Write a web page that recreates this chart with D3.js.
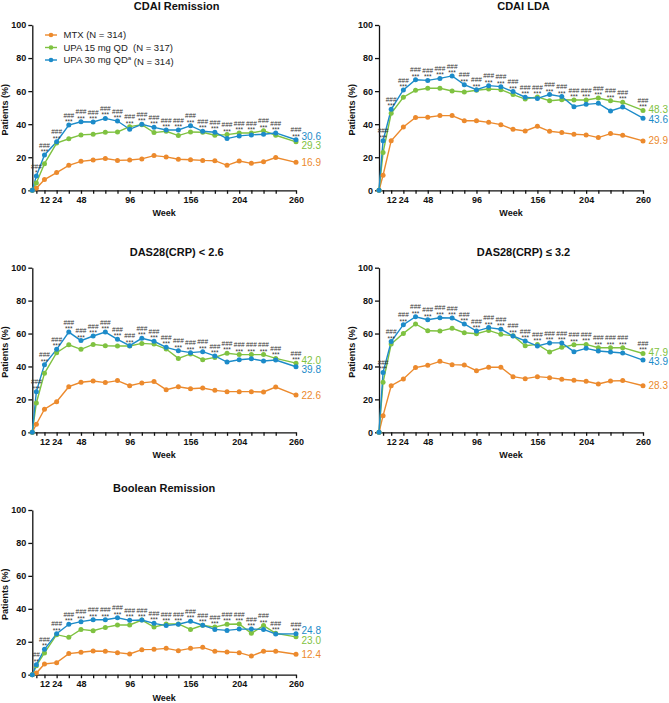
<!DOCTYPE html>
<html><head><meta charset="utf-8">
<script src="https://cdn.jsdelivr.net/npm/d3@7"></script>
<style>
body{margin:0;background:#fff;}
svg{font-family:Arial,"Liberation Sans",sans-serif;}
</style></head>
<body><svg id="c" width="669" height="703"></svg>
<script>
const weeks = [0,4,12,24,36,48,60,72,84,96,108,120,132,144,156,168,180,192,204,216,228,240,260];
const weekLabels = [12,24,48,96,156,204,260];
const yTicks = [0,20,40,60,80,100];
const seriesNames = ["MTX (N = 314)", "UPA 15 mg QD  (N = 317)", "UPA 30 mg QD"];
const colors = ["#EC8A2D", "#7FC241", "#1C8BC9"];

// CDAI Remission
const cdaiRemMTX = [0,1.2,6.5,10.7,15.1,17.5,18.3,19.2,18.1,18.3,19.0,21.0,20.2,18.8,18.5,18.1,17.9,15.1,17.7,16.3,17.3,19.8,16.9];
const cdaiRemU15 = [0,4.4,16.1,28.6,31.2,33.5,33.9,35.1,35.3,38.5,39.7,34.9,35.7,33.1,35.3,35.1,33.3,33.7,34.7,34.7,36.1,33.3,29.3];
const cdaiRemU30 = [0,8.7,21.4,29.4,39.5,41.5,41.3,43.5,41.9,36.9,39.9,38.1,36.5,36.5,39.1,35.7,35.1,31.3,32.9,33.5,33.9,34.7,30.6];
const cdaiRemHash = ["","###","###","###","###","###","###","###","###","###","###","###","###","###","###","###","###","###","###","###","###","###","###"];
const cdaiRemStar = ["","*","***","***","***","***","***","***","***","***","***","***","***","***","***","***","***","***","***","***","***","***","***"];

// CDAI LDA
const cdaiLdaMTX = [0,9.1,30.0,38.3,44.0,44.2,45.2,45.2,42.1,42.1,41.1,39.7,36.9,35.9,38.7,35.7,34.9,33.9,33.5,31.9,34.3,33.3,29.9];
const cdaiLdaU15 = [0,22.8,46.6,56.3,60.5,61.7,61.7,60.1,59.5,60.5,61.3,60.9,57.9,55.2,56.5,54.2,54.8,54.6,54.6,55.8,54.2,53.2,48.3];
const cdaiLdaU30 = [0,30.0,49.0,60.7,66.9,66.5,67.7,69.2,63.9,60.9,63.3,62.7,59.7,56.3,55.6,57.9,56.7,50.6,52.0,52.6,48.0,50.4,43.6];
const cdaiLdaHash = ["","###","###","###","###","###","###","###","###","###","###","###","###","###","###","###","###","###","###","###","###","###","###"];
const cdaiLdaStar = ["","***","***","***","***","***","***","***","***","***","***","***","***","***","***","***","***","***","***","***","***","***","***"];

// DAS28(CRP) < 2.6
const das26MTX = [0,4.9,14.0,18.6,27.7,30.4,31.2,30.2,31.4,28.3,30.0,30.8,25.9,27.7,26.5,26.9,25.5,24.7,24.7,24.7,24.5,27.5,22.6];
const das26U15 = [0,17.8,35.8,48.4,53.2,50.4,53.4,52.6,52.4,52.4,54.0,53.6,50.6,44.9,47.6,44.1,45.5,48.0,47.2,47.2,47.2,44.9,42.0];
const das26U30 = [0,24.7,41.1,50.4,60.9,55.7,58.5,60.9,56.5,52.6,57.1,55.3,51.6,49.6,48.4,49.0,46.4,42.7,44.1,44.7,43.3,43.9,39.8];
const das26Hash = ["","###","###","###","###","###","###","###","###","###","###","###","###","###","###","###","###","###","###","###","###","###","###"];
const das26Star = ["","***","***","***","***","***","***","***","***","***","***","***","***","***","***","***","***","***","***","***","***","***","***"];

// DAS28(CRP) <= 3.2
const das32MTX = [0,10.1,28.3,32.4,39.3,40.7,43.1,41.1,40.9,37.4,39.5,39.5,33.8,32.6,33.8,33.2,32.2,31.6,31.0,29.4,31.2,31.4,28.3];
const das32U15 = [0,30.4,53.6,60.1,65.8,61.7,61.5,63.2,60.5,59.9,61.9,59.5,58.7,52.6,53.4,48.8,51.6,53.2,53.4,51.4,51.4,51.4,47.9];
const das32U30 = [0,36.4,55.1,65.4,70.2,68.4,69.6,69.4,65.8,61.5,63.6,62.6,58.5,55.5,52.4,54.3,54.3,49.0,51.0,49.4,48.8,48.2,43.9];
const das32Hash = ["","###","###","###","###","###","###","###","###","###","###","###","###","###","###","###","###","###","###","###","###","###","###"];
const das32Star = ["","***","***","***","***","***","***","***","***","***","***","***","***","***","***","***","***","***","***","***","***","***","***"];

// Boolean Remission
const boolMTX = [0,1.0,6.5,7.3,12.8,13.6,14.4,14.2,13.4,12.6,15.2,15.4,16.0,14.6,16.0,16.6,14.2,13.8,13.4,11.3,14.2,14.2,12.4];
const boolU15 = [0,5.5,13.2,24.3,22.7,27.5,26.7,28.7,30.2,30.2,33.2,28.9,30.8,30.8,27.5,30.0,28.9,30.6,30.8,25.1,29.8,25.1,23.0];
const boolU30 = [0,6.1,15.4,24.9,30.6,32.2,33.4,33.4,34.6,33.0,33.2,31.2,29.8,30.6,32.4,30.0,27.5,26.9,27.7,27.7,27.5,24.7,24.8];
const boolHash = ["","##","###","###","###","###","###","###","###","###","###","###","###","###","###","###","###","###","###","###","###","###","###"];
const boolStar = ["","**","**","***","***","***","***","***","***","***","***","***","***","***","***","***","***","***","***","***","***","***","***"];

const panels = [
  {title:"CDAI Remission", s:[cdaiRemMTX,cdaiRemU15,cdaiRemU30], hash:cdaiRemHash, star:cdaiRemStar, x0:32.3, x1:296, yb:190.3, yt:25, ty:10, tdx:12.5, legend:true},
  {title:"CDAI LDA", s:[cdaiLdaMTX,cdaiLdaU15,cdaiLdaU30], hash:cdaiLdaHash, star:cdaiLdaStar, x0:379, x1:643, yb:190.3, yt:25, ty:10, tdx:12.5},
  {title:"DAS28(CRP) < 2.6", s:[das26MTX,das26U15,das26U30], hash:das26Hash, star:das26Star, x0:32.3, x1:296, yb:432.3, yt:267.7, ty:255.5, tdx:12.5},
  {title:"DAS28(CRP) \u2264 3.2", s:[das32MTX,das32U15,das32U30], hash:das32Hash, star:das32Star, x0:379, x1:643, yb:432.3, yt:267.7, ty:255.5, tdx:12.5},
  {title:"Boolean Remission", s:[boolMTX,boolU15,boolU30], hash:boolHash, star:boolStar, x0:32.3, x1:296, yb:674.7, yt:510, ty:491.5, tdx:0}
];

const svg = d3.select("#c");
const bold = "bold";

panels.forEach(p => {
  const x = d3.scaleLinear().domain([0,260]).range([p.x0,p.x1]);
  const y = d3.scaleLinear().domain([0,100]).range([p.yb,p.yt]);
  const g = svg.append("g");

  // title
  g.append("text").attr("x",(p.x0+p.x1)/2 + p.tdx).attr("y",p.ty)
    .attr("text-anchor","middle").attr("font-size",11).attr("font-weight",bold).attr("fill","#111")
    .text(p.title);

  // y axis
  const ya = g.append("g").attr("transform",`translate(${p.x0},0)`)
    .call(d3.axisLeft(y).tickValues(yTicks).tickSize(4).tickSizeOuter(0).tickPadding(2));
  ya.selectAll("text").attr("font-size",9).attr("font-weight",bold).attr("fill","#111").attr("font-family","Arial,'Liberation Sans',sans-serif");
  ya.selectAll("path,line").attr("stroke","#111").attr("stroke-width",1.3);

  // x axis
  const xa = g.append("g").attr("transform",`translate(0,${p.yb})`)
    .call(d3.axisBottom(x).tickValues(weeks.slice(1)).tickSize(3.5).tickSizeOuter(0).tickPadding(2.5)
      .tickFormat(d => weekLabels.includes(d) ? d : ""));
  xa.selectAll("text").attr("font-size",9).attr("font-weight",bold).attr("fill","#111").attr("font-family","Arial,'Liberation Sans',sans-serif");
  xa.selectAll("path,line").attr("stroke","#111").attr("stroke-width",1.3);

  // axis titles
  g.append("text").attr("x",(p.x0+p.x1)/2).attr("y",p.yb+26)
    .attr("text-anchor","middle").attr("font-size",9).attr("font-weight",bold).attr("fill","#111").text("Week");
  g.append("text").attr("transform",`translate(${p.x0-24},${(p.yb+p.yt)/2+2}) rotate(-90)`)
    .attr("text-anchor","middle").attr("font-size",9).attr("font-weight",bold).attr("fill","#111").text("Patients (%)");

  // lines + markers
  const line = d3.line().x((d,i)=>x(weeks[i])).y(d=>y(d));
  p.s.forEach((vals,k) => {
    g.append("path").attr("d",line(vals)).attr("fill","none").attr("stroke",colors[k]).attr("stroke-width",1.4);
  });
  p.s.forEach((vals,k) => {
    g.selectAll(null).data(vals).enter().append("circle")
      .attr("cx",(d,i)=>x(weeks[i])).attr("cy",d=>y(d)).attr("r",2.5).attr("fill",colors[k]);
  });

  // significance annotations
  weeks.forEach((w,i) => {
    if (!p.hash[i]) return;
    const top = y(Math.max(p.s[1][i], p.s[2][i]));
    g.append("text").attr("x",x(w)).attr("y",top-1).attr("text-anchor","middle")
      .attr("font-size",6.5).attr("fill","#333").text(p.star[i]);
    g.append("text").attr("x",x(w)).attr("y",top-7.3).attr("text-anchor","middle")
      .attr("font-size",6.5).attr("fill","#333").text(p.hash[i]);
  });

  // end value labels with simple de-overlap
  const last = weeks.length-1;
  const labs = p.s.map((vals,k)=>({k, v:vals[last], y:y(vals[last])})).sort((a,b)=>a.y-b.y);
  for (let it=0; it<20; it++) {
    for (let j=1;j<labs.length;j++) {
      const gap = labs[j].y - labs[j-1].y;
      if (gap < 9.3) { const d=(9.3-gap)/2; labs[j].y += d; labs[j-1].y -= d; }
    }
  }
  labs.forEach(l => {
    g.append("text").attr("x",p.x1+5.5).attr("y",l.y).attr("dy","0.36em")
      .attr("font-size",10).attr("fill",colors[l.k]).text(d3.format(".1f")(l.v));
  });

  // legend
  if (p.legend) {
    const lg = g.append("g");
    seriesNames.forEach((name,k) => {
      const ly = 35 + k*12.5;
      lg.append("line").attr("x1",45).attr("x2",57).attr("y1",ly).attr("y2",ly).attr("stroke",colors[k]).attr("stroke-width",1.4);
      lg.append("circle").attr("cx",51).attr("cy",ly).attr("r",2.3).attr("fill",colors[k]);
      const t = lg.append("text").attr("x",63.5).attr("y",ly).attr("dy","0.35em").attr("font-size",9.5).attr("fill","#222")
        .style("white-space","pre");
      if (k===2) {
        t.append("tspan").text(name);
        t.append("tspan").attr("font-size",6).attr("dy","-0.5em").text("a");
        t.append("tspan").attr("dy","0.5em").attr("font-size",9.5).text(" (N = 314)");
      } else {
        t.text(name);
      }
    });
  }
});
</script></body></html>
